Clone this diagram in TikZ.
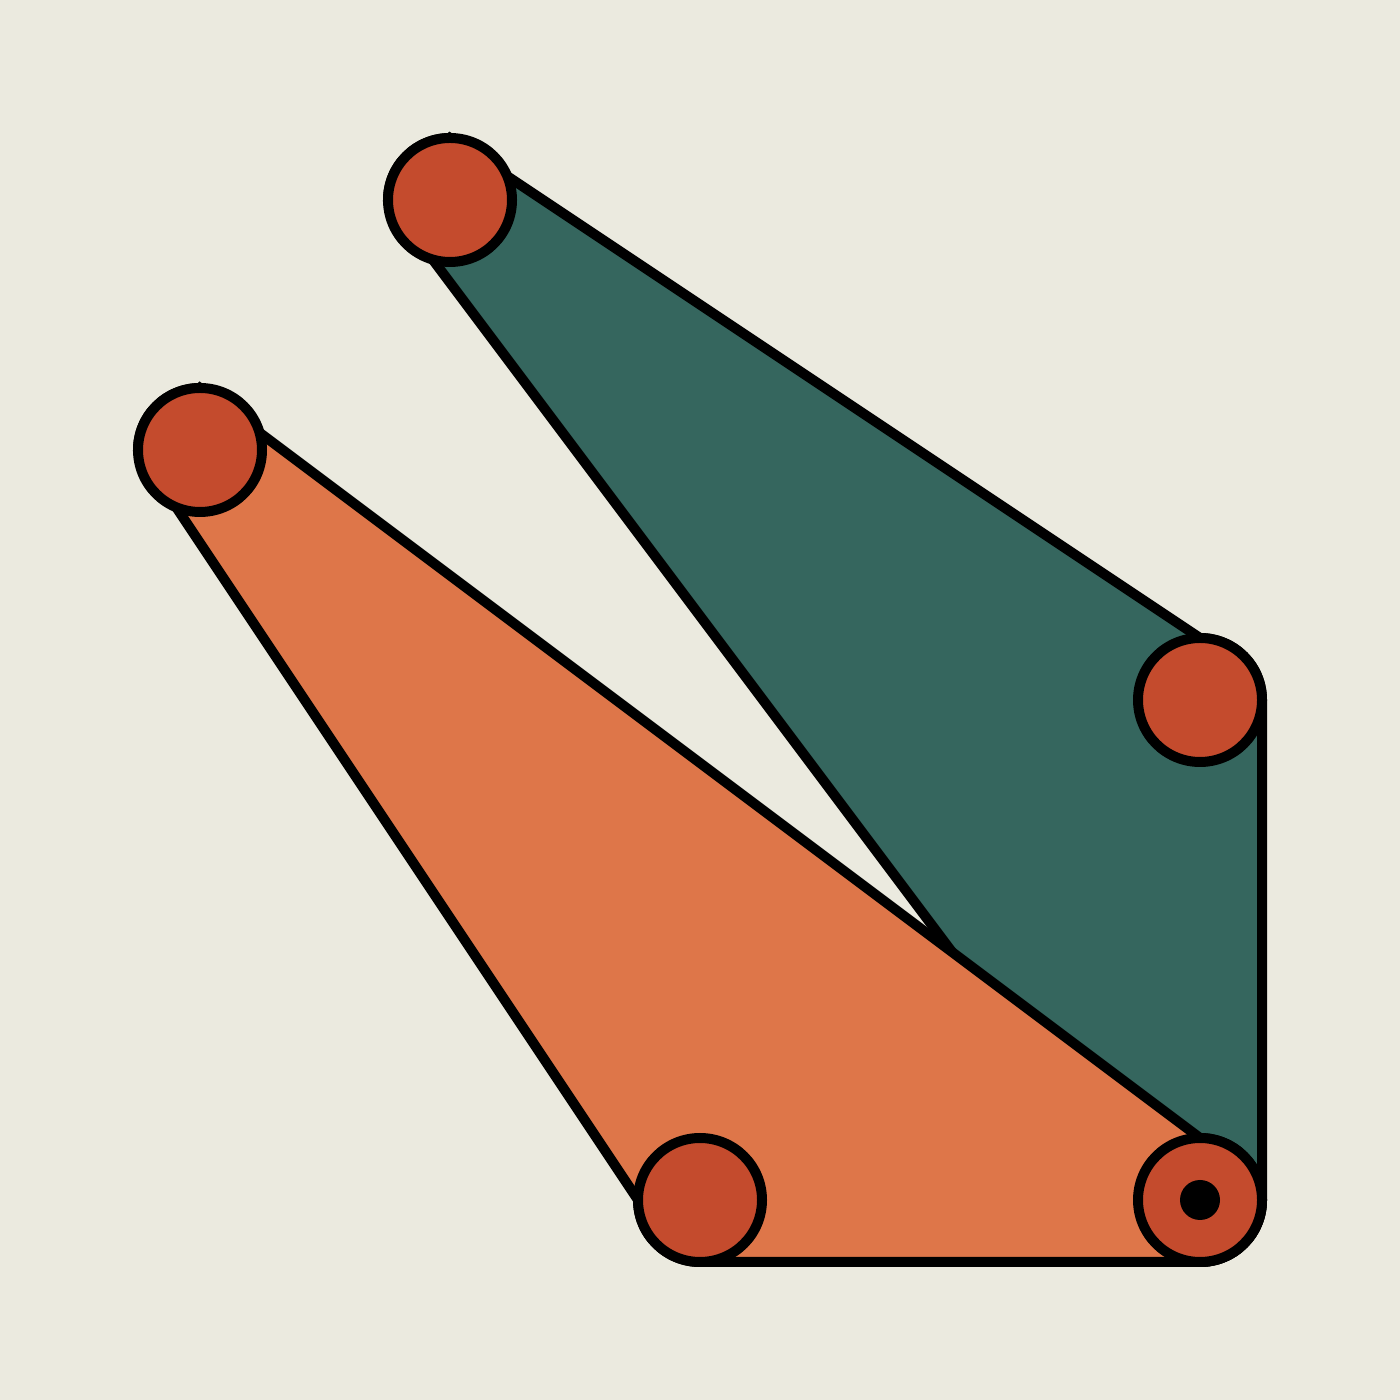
\documentclass[tikz,border=0pt]{standalone}
\usepackage{tikz}

\definecolor{paper}{HTML}{EBEADF}
\definecolor{pine}{HTML}{35665E}
\definecolor{clay}{HTML}{DE7649}
\definecolor{brick}{HTML}{C44B2D}

\def\rr{0.62}

\tikzset{
	plate/.style={draw=black, line width=0.1cm},
	joint/.style={fill=brick, draw=black, line width=0.1cm}
}

\begin{document}
\begin{tikzpicture}
	
		\fill[paper] (0,0) rectangle (14,14);
		
		\coordinate (tip) at (4.5,12);
		\coordinate (elbow) at (12,7);
		\coordinate (heel) at (12,2);
		\coordinate (wing) at (2,9.5);
		\coordinate (foot) at (7,2);
		
		\filldraw[plate, fill=pine] ([yshift=\rr cm]tip) -- ([yshift=\rr cm]elbow)
			arc[start angle=90, end angle=0, radius=\rr] -- ([xshift=\rr cm]heel)
			arc[start angle=0, end angle=-180, radius=\rr] -- ([xshift=-\rr cm]tip)
			arc[start angle=180, end angle=90, radius=\rr] -- cycle;
		
		\filldraw[plate, fill=clay] ([yshift=\rr cm]wing) -- ([yshift=\rr cm]heel)
			arc[start angle=90, end angle=-90, radius=\rr] -- ([yshift=-\rr cm]foot)
			arc[start angle=-90, end angle=-180, radius=\rr] -- ([xshift=-\rr cm]wing)
			arc[start angle=180, end angle=90, radius=\rr] -- cycle;
		
		\foreach \p in {tip, elbow, heel, wing, foot}
			\draw[joint] (\p) circle (\rr);
		
		\fill[black] (heel) circle (0.2);
	\end{tikzpicture}
\end{document}
